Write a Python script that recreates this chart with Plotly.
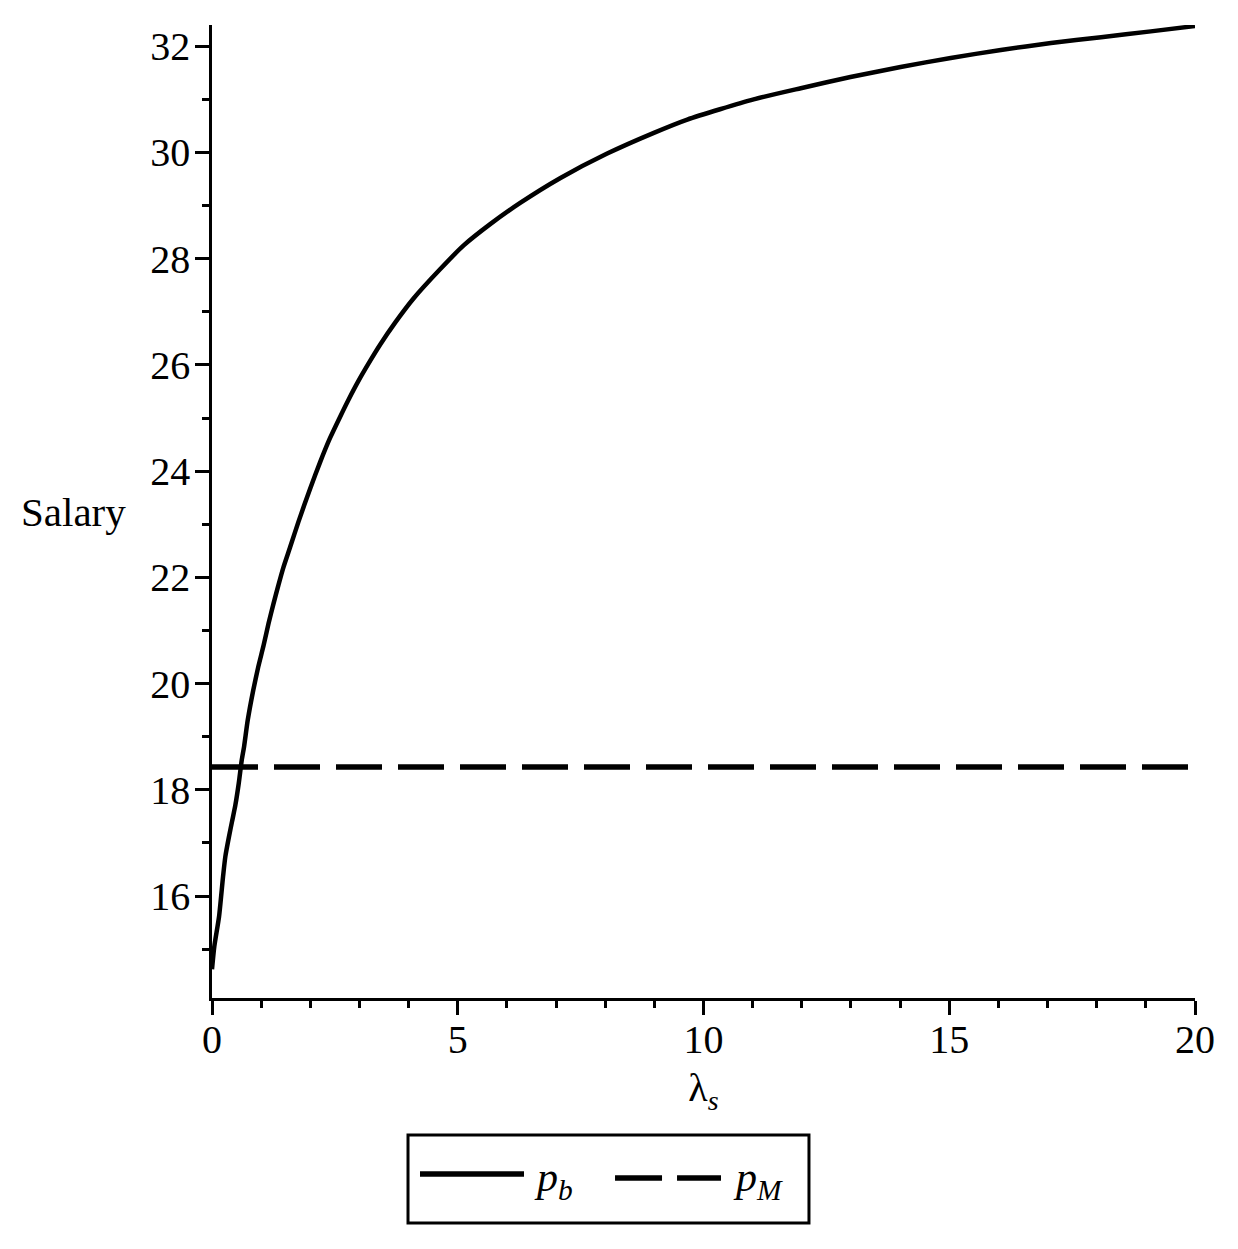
import plotly.graph_objects as go

# curve p_b
lam_s = [0, 0.047, 0.143, 0.224, 0.271, 0.346, 0.407, 0.475, 0.544, 0.605, 0.652, 0.727,
         0.84, 0.94, 1.05, 1.15, 1.25, 1.35, 1.45, 1.59, 1.76, 2.00, 2.20, 2.40, 2.61, 2.78,
         2.98, 3.22, 3.42, 3.73, 4.10, 4.64, 5.12, 5.66, 6.27, 7.09, 8.04, 8.99, 9.67, 11.02,
         11.98, 12.99, 14.01, 15.03, 16.05, 17.07, 18.09, 19.10, 20.00]
p_b = [14.62, 15.05, 15.61, 16.36, 16.74, 17.12, 17.40, 17.71, 18.12, 18.56, 18.81, 19.31,
       19.88, 20.31, 20.72, 21.13, 21.50, 21.85, 22.18, 22.57, 23.05, 23.68, 24.17, 24.62, 25.03, 25.35,
       25.70, 26.08, 26.38, 26.80, 27.25, 27.80, 28.25, 28.65, 29.05, 29.52, 29.98, 30.37, 30.62, 31.00,
       31.21, 31.42, 31.61, 31.78, 31.93, 32.06, 32.17, 32.28, 32.38]

# flat line p_M
lam_m = [0, 19.93]
p_m = [18.43, 18.43]

x_ticks = [0, 5, 10, 15, 20]
y_ticks = [16, 18, 20, 22, 24, 26, 28, 30, 32]

SERIF = "Liberation Serif, Times New Roman, serif"

fig = go.Figure()

fig.add_trace(go.Scatter(
    x=lam_s, y=p_b, mode="lines", name="p_b",
    line=dict(color="black", width=4.5, shape="spline", smoothing=0.6),
    cliponaxis=False, showlegend=False,
))
fig.add_trace(go.Scatter(
    x=lam_m, y=p_m, mode="lines", name="p_M",
    line=dict(color="black", width=5.5, dash="46px,16px"),
    showlegend=False,
))

# legend drawn by hand so the line samples can be long like the original
LY = -0.183
fig.add_shape(type="rect", xref="paper", yref="paper",
              x0=0.1994, x1=0.6073, y0=-0.2312, y1=-0.1408,
              line=dict(color="black", width=3), fillcolor="white")
fig.add_shape(type="line", xref="paper", yref="paper",
              x0=0.2116, x1=0.3174, y0=LY + 0.002, y1=LY + 0.002,
              line=dict(color="black", width=5.5))
fig.add_shape(type="line", xref="paper", yref="paper",
              x0=0.4100, x1=0.5178, y0=LY - 0.002, y1=LY - 0.002,
              line=dict(color="black", width=5.5, dash="47px,15px"))
fig.add_annotation(xref="paper", yref="paper", x=0.3256, y=LY - 0.004,
                   xanchor="left", yanchor="middle", showarrow=False,
                   text="<i>p<sub>b</sub></i>", font=dict(family=SERIF, size=42, color="black"))
fig.add_annotation(xref="paper", yref="paper", x=0.5280, y=LY - 0.004,
                   xanchor="left", yanchor="middle", showarrow=False,
                   text="<i>p<sub>M</sub></i>", font=dict(family=SERIF, size=42, color="black"))

# y title written horizontally at the left
fig.add_annotation(xref="paper", yref="paper", x=-0.196, y=0.5,
                   xanchor="left", yanchor="middle", showarrow=False,
                   text="Salary", font=dict(family=SERIF, size=41, color="black"))

axis_common = dict(
    showgrid=False, zeroline=False, showline=True, linecolor="black", linewidth=2.5,
    ticks="outside", ticklen=14, tickwidth=2.5, tickcolor="black",
    tickfont=dict(family=SERIF, size=40, color="black"),
)

# page body has an 8px margin, so the figure is a bit smaller than the window
fig.update_layout(
    width=1230, height=1241,
    margin=dict(l=204, r=43, t=17, b=251),
    paper_bgcolor="white", plot_bgcolor="white",
    xaxis=dict(range=[0, 20], tickvals=x_ticks, ticklabelstandoff=-10,
               minor=dict(dtick=1, ticklen=7, tickwidth=2.5, tickcolor="black", ticks="outside"),
               title=dict(text="λ<sub><i>s</i></sub>", font=dict(family=SERIF, size=40, color="black"),
                          standoff=13),
               **axis_common),
    yaxis=dict(range=[14.08, 32.40], tickvals=y_ticks, ticklabelstandoff=-3,
               minor=dict(dtick=1, ticklen=7, tickwidth=2.5, tickcolor="black", ticks="outside"),
               **axis_common),
    showlegend=False,
)

fig.write_html("out.html")
